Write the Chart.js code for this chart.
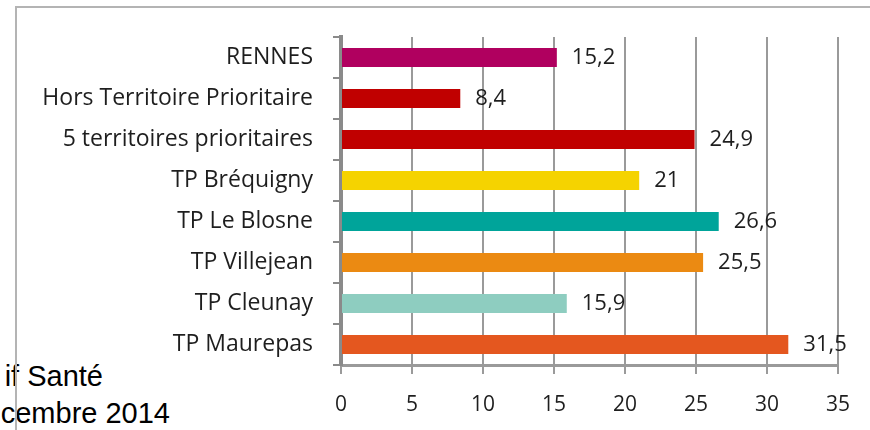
<!DOCTYPE html>
<html lang="fr">
<head>
<meta charset="utf-8">
<title>Territoires prioritaires - Rennes</title>
<script src="https://cdn.jsdelivr.net/npm/chart.js@4.4.1/dist/chart.umd.min.js"></script>
<style>
  html, body { margin: 0; padding: 0; background: #fff; }
  #wrap { position: relative; width: 870px; height: 430px; overflow: hidden; }
  #cadre {
    position: absolute; left: 15px; top: 6px; width: 1000px; height: 600px;
    border: 2px solid #b4b4b4; box-sizing: border-box; pointer-events: none; z-index: 3;
  }
  #chartBox { position: absolute; left: 0; top: 0; width: 870px; height: 430px; z-index: 2; }
  .note {
    position: absolute; font-family: "Liberation Sans", Arial, sans-serif; font-size: 29px;
    color: #000; white-space: nowrap; text-align: right; line-height: 1; z-index: 1;
  }
</style>
</head>
<body>
<div id="wrap">
  <div class="note" style="right: 767px; top: 362px;">if Santé</div>
  <div class="note" style="right: 700px; top: 399px;">cembre 2014</div>
  <div id="chartBox"><canvas id="territoiresChart" width="870" height="430"></canvas></div>
  <div id="cadre"></div>
</div>

<script>
// Données du graphique
const territoires = [
  'RENNES',
  'Hors Territoire Prioritaire',
  '5 territoires prioritaires',
  'TP Bréquigny',
  'TP Le Blosne',
  'TP Villejean',
  'TP Cleunay',
  'TP Maurepas'
];
const valeurs = [15.2, 8.4, 24.9, 21, 26.6, 25.5, 15.9, 31.5];
const couleurs = ['#b0005f', '#c00000', '#c00000', '#f5d300', '#00a49a', '#eb8a12', '#8ecdc0', '#e4571f'];
const axeMin = 0;
const axeMax = 35;
const axePas = 5;

const famille = '"Open Sans", sans-serif';
const policeCategories = { family: famille, size: 23 };
const policeValeurs = { family: famille, size: 22 };
const policeGraduations = { family: famille, size: 21 };

// Étiquettes de valeur à droite des barres (virgule décimale)
const etiquettesValeurs = {
  id: 'etiquettesValeurs',
  afterDatasetsDraw(chart) {
    const ctx = chart.ctx;
    const meta = chart.getDatasetMeta(0);
    ctx.save();
    ctx.font = policeValeurs.size + 'px ' + policeValeurs.family;
    ctx.fillStyle = '#1e1e1e';
    ctx.textAlign = 'left';
    ctx.textBaseline = 'middle';
    meta.data.forEach((barre, i) => {
      const texte = String(valeurs[i]).replace('.', ',');
      ctx.fillText(texte, barre.x + 15, barre.y);
    });
    ctx.restore();
  }
};

function initTerritoiresChart() {
  const ctx = document.getElementById('territoiresChart');

  return new Chart(ctx, {
    type: 'bar',
    data: {
      labels: territoires,
      datasets: [{
        data: valeurs,
        backgroundColor: couleurs,
        borderWidth: 0,
        categoryPercentage: 1,
        barPercentage: 0.46
      }]
    },
    options: {
      indexAxis: 'y',
      responsive: false,
      animation: false,
      layout: { padding: { left: 0, top: 37, right: 32, bottom: 0 } },
      plugins: {
        legend: { display: false },
        tooltip: { enabled: false }
      },
      scales: {
        x: {
          min: axeMin,
          max: axeMax,
          ticks: { stepSize: axePas, color: '#1e1e1e', font: policeGraduations, padding: 18 },
          grid: { color: '#9a9a9a', lineWidth: 2, tickLength: 9 },
          border: { color: '#9a9a9a', width: 3 },
          afterFit(scale) { scale.height = 65; }
        },
        y: {
          ticks: { color: '#1e1e1e', font: policeCategories, padding: 20 },
          grid: { drawOnChartArea: false, color: '#8a8a8a', lineWidth: 2, tickLength: 8 },
          border: { color: '#8a8a8a', width: 4 },
          afterFit(scale) { scale.width = 341; }
        }
      }
    },
    plugins: [etiquettesValeurs]
  });
}

document.addEventListener('DOMContentLoaded', function () {
  initTerritoiresChart();
});
</script>
</body>
</html>
